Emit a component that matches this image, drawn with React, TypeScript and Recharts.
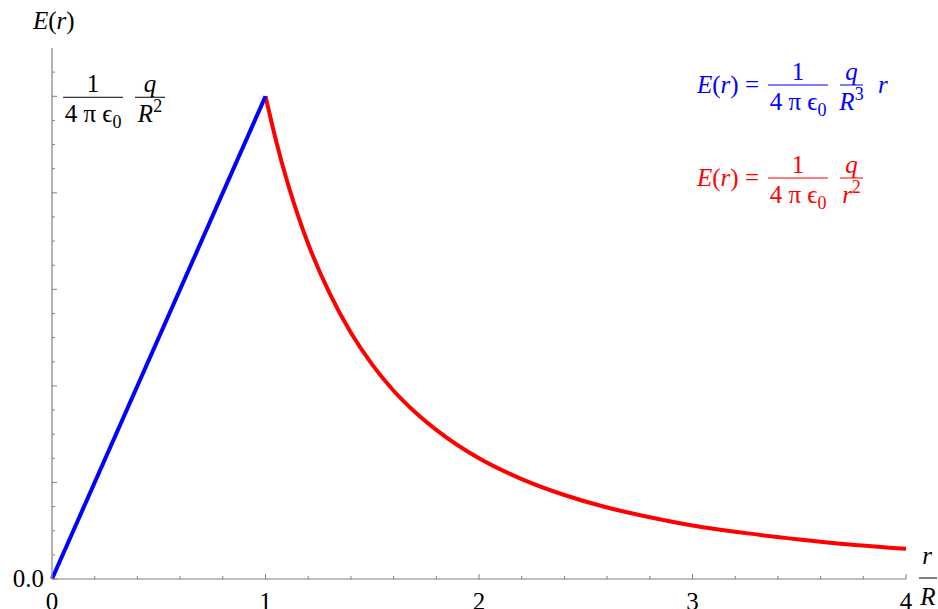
import { LineChart, Line, XAxis, YAxis } from "recharts";

// inside the sphere: E grows linearly with r
const insideR = [0, 1];
const insideE = [0, 1];

// outside the sphere: E falls off like 1/r^2
const outsideR = [1, 1.05, 1.1, 1.15, 1.2, 1.3, 1.4, 1.5, 1.6, 1.7, 1.8, 2, 2.2, 2.4, 2.6, 2.8, 3, 3.25, 3.5, 3.75, 4];
const outsideE = [1, 0.907, 0.826, 0.756, 0.694, 0.592, 0.51, 0.444, 0.39, 0.346, 0.309, 0.25, 0.207, 0.174, 0.148, 0.128, 0.111, 0.095, 0.082, 0.071, 0.0625];

const xTicks = [0, 0.2, 0.4, 0.6, 0.8, 1, 1.2, 1.4, 1.6, 1.8, 2, 2.2, 2.4, 2.6, 2.8, 3, 3.2, 3.4, 3.6, 3.8, 4];
const xMajor = [0, 1, 2, 3, 4];
const yTicks = [0, 0.05, 0.1, 0.15, 0.2, 0.25, 0.3, 0.35, 0.4, 0.45, 0.5, 0.55, 0.6, 0.65, 0.7, 0.75, 0.8, 0.85, 0.9, 0.95, 1, 1.05];
const yMajor = [0, 0.2, 0.4, 0.6, 0.8, 1];

const inside = insideR.map((r, i) => ({ r, e: insideE[i] }));
const outside = outsideR.map((r, i) => ({ r, e: outsideE[i] }));

const serif = "'Liberation Serif', 'Times New Roman', Times, serif";
const axisGray = "#808080";
const BLUE = "#0000ff";
const RED = "#ff0000";
const FS = 25;

function Denom4pe() {
  return (
    <>
      <tspan>4 </tspan>
      <tspan>π</tspan>
      <tspan> ϵ</tspan>
      <tspan dy={6} fontSize={18}>0</tspan>
    </>
  );
}

function Frac({ x, y, w, num, den, color }: any) {
  return (
    <g fill={color} style={{ fontFamily: serif, fontSize: FS }}>
      <text x={x + w / 2} y={y - 5} textAnchor="middle">{num}</text>
      <line x1={x} x2={x + w} y1={y} y2={y} stroke={color} strokeWidth={1} />
      <text x={x + w / 2} y={y + 25} textAnchor="middle">{den}</text>
    </g>
  );
}

function XTick({ x, y, payload }: any) {
  const v = payload.value;
  const major = xMajor.includes(v);
  return (
    <g>
      <line x1={x} x2={x} y1={y} y2={y - (major ? 5 : 3)} stroke={axisGray} />
      {major && (
        <text x={x} y={y + 31} textAnchor="middle" style={{ fontFamily: serif, fontSize: FS }} fill="#000">
          {v}
        </text>
      )}
    </g>
  );
}

function YTick({ x, y, payload }: any) {
  const v = payload.value;
  const major = yMajor.includes(v);
  return (
    <g>
      <line x1={x} x2={x + (major ? 5 : 3)} y1={y} y2={y} stroke={axisGray} />
      {v === 0 && (
        <text x={x - 8} y={y + 8} textAnchor="end" style={{ fontFamily: serif, fontSize: FS }} fill="#000">
          0.0
        </text>
      )}
      {v === 1 && (
        <g>
          <Frac x={x + 11} y={y + 1} w={60} num="1" den={<Denom4pe />} color="#000" />
          <Frac
            x={x + 83}
            y={y + 1}
            w={30}
            num={<tspan fontStyle="italic">q</tspan>}
            den={
              <>
                <tspan fontStyle="italic">R</tspan>
                <tspan dy={-10} fontSize={18}>2</tspan>
              </>
            }
            color="#000"
          />
        </g>
      )}
    </g>
  );
}

function Legend() {
  return (
    <svg width={938} height={609} style={{ position: "absolute", left: 0, top: 0, pointerEvents: "none", fontFamily: serif, fontSize: FS }}>
      {/* axis titles */}
      <text x={33} y={29}>
        <tspan fontStyle="italic">E</tspan>(<tspan fontStyle="italic">r</tspan>)
      </text>
      <text x={927} y={564} textAnchor="middle" fontStyle="italic">r</text>
      <line x1={919} x2={937} y1={578} y2={578} stroke="#000" />
      <text x={928} y={605} textAnchor="middle" fontStyle="italic">R</text>

      {/* blue formula */}
      <text x={697} y={93} fill={BLUE}>
        <tspan fontStyle="italic">E</tspan>(<tspan fontStyle="italic">r</tspan>) =
      </text>
      <Frac x={768} y={85} w={60} num="1" den={<Denom4pe />} color={BLUE} />
      <Frac
        x={840}
        y={85}
        w={23}
        num={<tspan fontStyle="italic">q</tspan>}
        den={
          <>
            <tspan fontStyle="italic">R</tspan>
            <tspan dy={-10} fontSize={18}>3</tspan>
          </>
        }
        color={BLUE}
      />
      <text x={878} y={93} fill={BLUE} fontStyle="italic">r</text>

      {/* red formula */}
      <text x={697} y={186} fill={RED}>
        <tspan fontStyle="italic">E</tspan>(<tspan fontStyle="italic">r</tspan>) =
      </text>
      <Frac x={768} y={178} w={60} num="1" den={<Denom4pe />} color={RED} />
      <Frac
        x={840}
        y={178}
        w={23}
        num={<tspan fontStyle="italic">q</tspan>}
        den={
          <>
            <tspan fontStyle="italic">r</tspan>
            <tspan dy={-10} fontSize={18}>2</tspan>
          </>
        }
        color={RED}
      />
    </svg>
  );
}

export default function App() {
  return (
    <div style={{ position: "absolute", left: 0, top: 0, width: 938, height: 609, background: "#fff" }}>
      <LineChart width={938} height={609} margin={{ top: 48, right: 32, bottom: 0, left: 0 }}>
        <XAxis
          type="number"
          dataKey="r"
          domain={[0, 4]}
          ticks={xTicks}
          interval={0}
          height={30}
          tickSize={0}
          tickMargin={0}
          tickLine={false}
          axisLine={{ stroke: axisGray, strokeWidth: 1.2 }}
          tick={<XTick />}
          allowDuplicatedCategory={false}
        />
        <YAxis
          type="number"
          dataKey="e"
          domain={[0, 1.1]}
          ticks={yTicks}
          interval={0}
          width={52}
          tickSize={0}
          tickMargin={0}
          tickLine={false}
          axisLine={{ stroke: axisGray, strokeWidth: 1.2 }}
          tick={<YTick />}
        />
        <Line
          data={outside}
          dataKey="e"
          type="monotone"
          stroke={RED}
          strokeWidth={4}
          dot={false}
          isAnimationActive={false}
        />
        <Line
          data={inside}
          dataKey="e"
          type="linear"
          stroke={BLUE}
          strokeWidth={4}
          dot={false}
          isAnimationActive={false}
        />
      </LineChart>
      <Legend />
    </div>
  );
}
